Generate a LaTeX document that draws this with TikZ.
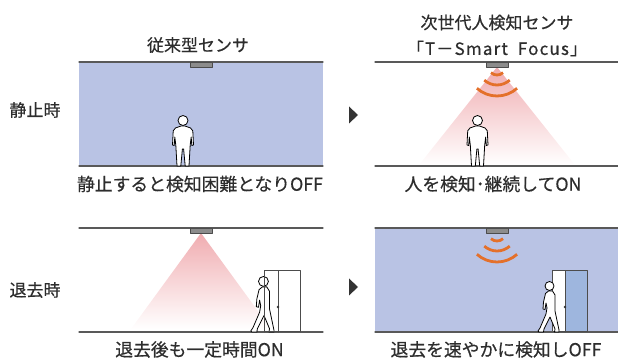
\documentclass[tikz,border=0pt]{standalone}
\usepackage{fontspec}
\setmainfont{Noto Sans CJK JP}[FakeBold=0.5]
\usetikzlibrary{positioning}

\definecolor{roomblue}{RGB}{185,195,228}
\definecolor{doorblue}{RGB}{158,182,222}
\definecolor{wavecol}{RGB}{228,112,42}
\definecolor{conepink}{RGB}{240,172,176}
\definecolor{textgray}{RGB}{45,45,45}

% standing and walking figures, feet at the origin
\tikzset{
  standman/.pic={
    \filldraw[figure] (2,40) -- (7.5,38) to[out=-20,in=90] (10,31) -- (10.5,21) -- (8.8,20.5) -- (8.2,29)
      -- (7.2,21) -- (6,0) -- (2.2,0) -- (0.6,17) -- (-0.6,17) -- (-2.2,0) -- (-6,0) -- (-7.2,21)
      -- (-8.2,29) -- (-8.8,20.5) -- (-10.5,21) -- (-10,31) to[out=90,in=-160] (-7.5,38) -- (-2,40) -- cycle;
    \filldraw[figure] (0,45.5) circle (5);
  },
  walkman/.pic={
    \filldraw[figure] (-1.5,41) -- (-4.5,38.5) -- (-6.5,30) -- (-7,23) -- (-5,22.5) -- (-4,29) -- (-3,24)
      -- (-4,18) -- (-10,4) -- (-12,1) -- (-11,0) -- (-6.5,0) -- (-6,3) -- (0,15) -- (5,3) -- (4.5,0)
      -- (9,0) -- (9,2) -- (5,21) -- (5,37) -- (2.5,41) -- cycle;
    \filldraw[figure] (-0.5,46) circle (4.5);
  }
}

\begin{document}
\begin{tikzpicture}[x=1pt,y=1pt,line cap=round,line join=round,
  txt/.style={font=\fontsize{17}{20}\selectfont,text=textgray,inner sep=0pt},
  captxt/.style={txt,font=\fontsize{17.8}{20}\selectfont},
  wall/.style={draw=black!65,line width=1.3pt},
  sensor/.style={fill=black!45,draw=black!70,line width=0.8pt},
  wave/.style={draw=wavecol,line width=2.8pt,line cap=butt},
  figure/.style={fill=white,draw=black,line width=0.8pt},
  doorline/.style={draw=black!70,line width=1pt},
  marker/.style={fill=black!80}]
\path[use as bounding box] (0,0) rectangle (618,361);

% headings
\node[txt] (hdold) at (198,316) {従来型センサ};
\node[txt] (hdnew) at (497,338.5) {次世代人検知センサ};
\node[txt,font=\fontsize{17}{20}\selectfont\addfontfeature{LetterSpace=7}] (hdname) at (497,312.5) {「T－Smart\ \ Focus」};
\node[txt] (rowstill) at (35,251) {静止時};
\node[txt] (rowleave) at (35,71) {退去時};

% top row, old sensor
\fill[roomblue] (79,195) rectangle (323,299);
\draw[wall] (79,299) -- (323,299);
\draw[wall] (79,195) -- (323,195);
\filldraw[sensor] (190,294) rectangle (212,299);
\pic at (183,195) {standman};
\node[captxt] (capold) at (200,177) {静止すると検知困難となりOFF};

% top row, new sensor
\shade[top color=conepink,bottom color=white] (497,294) -- (575,196) -- (419,196) -- cycle;
\draw[wall] (375,299) -- (618,299);
\draw[wall] (375,195) -- (618,195);
\filldraw[sensor] (486,294) rectangle (508,299);
\foreach \r in {9,19,30}
  \draw[wave] (497,295) ++(-132:\r) arc (-132:-48:\r);
\pic at (477.5,195) {standman};
\node[captxt] (capnew) at (493,177) {人を検知･継続してON};

% bottom row, old sensor
\shade[top color=conepink,bottom color=white] (201,128) -- (271,32) -- (131,32) -- cycle;
\draw[wall] (79,133) -- (323,133);
\draw[wall] (79,29) -- (323,29);
\filldraw[sensor] (190,128) rectangle (212,133);
\pic[scale=1.1] at (264,29) {walkman};
\draw[doorline] (264,29) rectangle (300,90);
\draw[doorline] (278,29) -- (278,90);
\fill[black!80] (278,54) circle (1.4);
\node[captxt] (capoldleave) at (199.5,11.5) {退去後も一定時間ON};

% bottom row, new sensor
\fill[roomblue] (375,29) rectangle (618,133);
\draw[wall] (375,133) -- (618,133);
\draw[wall] (375,29) -- (618,29);
\filldraw[sensor] (486,128) rectangle (508,133);
\foreach \r in {9,19,30}
  \draw[wave] (497,129) ++(-132:\r) arc (-132:-48:\r);
\fill[white] (552,29) rectangle (565,90);
\fill[doorblue] (565,29) rectangle (587,90);
\draw[doorline] (552,29) rectangle (587,90);
\draw[doorline] (565,29) -- (565,90);
\fill[black!80] (565,54) circle (1.4);
\pic at (550,29) {walkman};
\node[captxt] (capnewleave) at (496,11.5) {退去を速やかに検知しOFF};

% arrows between the columns
\fill[marker] (349,254.5) -- (358,246) -- (349,237.5) -- cycle;
\fill[marker] (349,82.5) -- (358,74) -- (349,65.5) -- cycle;
\end{tikzpicture}
\end{document}
